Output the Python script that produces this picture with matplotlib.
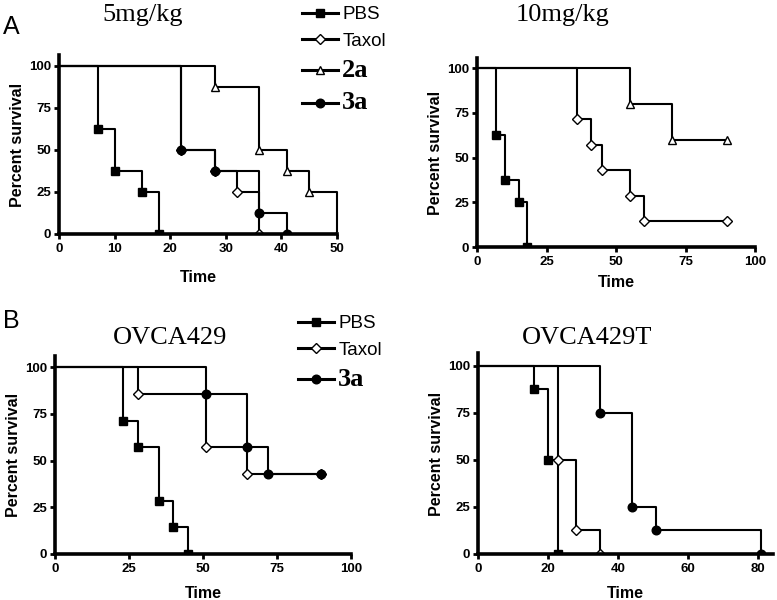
import matplotlib
matplotlib.use("Agg")
import matplotlib.pyplot as plt
from matplotlib.lines import Line2D

# ---------------- data ----------------
# Panel A, 5 mg/kg
a5_pbs_t = [7, 10, 15, 18];           a5_pbs_s = [62.5, 37.5, 25, 0]
a5_tax_t = [22, 28, 32, 36];          a5_tax_s = [50, 37.5, 25, 0]
a5_2a_t = [28, 36, 41, 45, 50];       a5_2a_s = [87.5, 50, 37.5, 25, 0]
a5_3a_t = [22, 28, 36, 41];           a5_3a_s = [50, 37.5, 12.5, 0]
# Panel A, 10 mg/kg
a10_pbs_t = [7, 10, 15, 18];          a10_pbs_s = [62.5, 37.5, 25, 0]
a10_tax_t = [36, 41, 45, 55, 60];     a10_tax_s = [71.4, 57.1, 42.9, 28.6, 14.3]; a10_tax_end = 90
a10_2a_t = [55, 70];                  a10_2a_s = [80, 60];                         a10_2a_end = 90
# Panel B, OVCA429
b1_pbs_t = [23, 28, 35, 40, 45];      b1_pbs_s = [71.4, 57.1, 28.6, 14.3, 0]
b1_tax_t = [28, 51, 65];              b1_tax_s = [85.7, 57.1, 42.9];               b1_tax_end = 90
b1_3a_t = [51, 65, 72];               b1_3a_s = [85.7, 57.1, 42.9];                b1_3a_end = 90
# Panel B, OVCA429T
b2_pbs_t = [16, 20, 23];              b2_pbs_s = [87.5, 50, 0]
b2_tax_t = [23, 28, 35];              b2_tax_s = [50, 12.5, 0]
b2_3a_t = [35, 44, 51, 81];           b2_3a_s = [75, 25, 12.5, 0]

titles = ["5mg/kg", "10mg/kg", "OVCA429", "OVCA429T"]
yticks = [0, 25, 50, 75, 100]

SANS = "Liberation Sans"
SERIF = "Liberation Serif"

styles = {
    "PBS": dict(marker="s", mfc="black", ms=6.0),
    "Taxol": dict(marker="D", mfc="white", ms=4.6),
    "2a": dict(marker="^", mfc="white", ms=5.5),
    "3a": dict(marker="o", mfc="black", ms=6.2),
}

W, H = 777, 600
fig = plt.figure(figsize=(W / 100, H / 100), dpi=100)


def px_axes(x0, x1, ytop, ybot):
    return fig.add_axes([x0 / W, 1 - ybot / H, (x1 - x0) / W, (ybot - ytop) / H])


def km(ax, name, t, s, end=None):
    xs = [0] + list(t)
    ys = [100] + list(s)
    if end is not None:
        xs.append(end)
        ys.append(s[-1])
    st = styles[name]
    ax.step(xs, ys, where="post", color="black", lw=1.5, zorder=2, clip_on=False)
    mx = list(t) + ([end] if end is not None else [])
    my = list(s) + ([s[-1]] if end is not None else [])
    ax.plot(mx, my, ls="none", marker=st["marker"], mfc=st["mfc"], mec="black",
            mew=1.0, ms=st["ms"], zorder=3, clip_on=True)


def style(ax, xlim, xticks, ytop, xpad):
    ax.set_xlim(*xlim)
    ax.set_ylim(0, ytop)
    ax.set_xticks(xticks)
    ax.set_yticks(yticks)
    for sp in ["top", "right"]:
        ax.spines[sp].set_visible(False)
    for sp in ["left", "bottom"]:
        ax.spines[sp].set_linewidth(2.6)
        ax.spines[sp].set_zorder(4)
    ax.tick_params(direction="out", length=3.5, width=2.0, pad=2)
    ax.tick_params(axis="x", pad=3)
    for lab in ax.get_xticklabels() + ax.get_yticklabels():
        lab.set_fontfamily(SANS)
        lab.set_fontweight("bold")
        lab.set_fontsize(9.5)
    ax.set_ylabel("Percent survival", fontfamily=SANS, fontweight="bold", fontsize=11.5, labelpad=3)
    ax.set_xlabel("Time", fontfamily=SANS, fontweight="bold", fontsize=11.5, labelpad=xpad)


# Panel A left
ax1 = px_axes(59, 337, 55, 234)
km(ax1, "PBS", a5_pbs_t, a5_pbs_s)
km(ax1, "Taxol", a5_tax_t, a5_tax_s)
km(ax1, "2a", a5_2a_t, a5_2a_s)
km(ax1, "3a", a5_3a_t, a5_3a_s)
style(ax1, (0, 50), [0, 10, 20, 30, 40, 50], 106.5, 11)

# Panel A right
ax2 = px_axes(477, 755, 58, 247)
km(ax2, "PBS", a10_pbs_t, a10_pbs_s)
km(ax2, "Taxol", a10_tax_t, a10_tax_s, a10_tax_end)
km(ax2, "2a", a10_2a_t, a10_2a_s, a10_2a_end)
style(ax2, (0, 100), [0, 25, 50, 75, 100], 105.6, 5)

# Panel B left
ax3 = px_axes(55, 351, 356, 554)
km(ax3, "PBS", b1_pbs_t, b1_pbs_s)
km(ax3, "Taxol", b1_tax_t, b1_tax_s, b1_tax_end)
km(ax3, "3a", b1_3a_t, b1_3a_s, b1_3a_end)
style(ax3, (0, 100), [0, 25, 50, 75, 100], 106, 8)

# Panel B right
ax4 = px_axes(478, 773, 353, 554)
km(ax4, "PBS", b2_pbs_t, b2_pbs_s)
km(ax4, "Taxol", b2_tax_t, b2_tax_s)
km(ax4, "3a", b2_3a_t, b2_3a_s)
style(ax4, (0, 84.3), [0, 20, 40, 60, 80], 106.9, 8)

# titles
for (cx, cy), ttl in zip([(143, 15), (563, 15), (170, 338), (587, 338)], titles):
    fig.text(cx / W, 1 - cy / H, ttl, ha="center", va="center", fontfamily=SERIF, fontsize=19)

# panel letters
fig.text(3 / W, 1 - 27 / H, "A", ha="left", va="center", fontfamily=SANS, fontsize=18)
fig.text(3 / W, 1 - 321 / H, "B", ha="left", va="center", fontfamily=SANS, fontsize=18)


def legend(ax, names, anchor):
    handles = []
    for n in names:
        st = styles[n]
        handles.append(Line2D([0], [0], color="black", lw=2.2, marker=st["marker"], mfc=st["mfc"],
                              mec="black", mew=1.0, ms=st["ms"]))
    leg = ax.legend(handles, names, loc="upper left", bbox_to_anchor=(anchor[0] / W, 1 - anchor[1] / H),
                    bbox_transform=fig.transFigure, frameon=False, handlelength=1.9, handletextpad=0.25,
                    labelspacing=0.5, borderpad=0, borderaxespad=0, numpoints=1,
                    prop={"family": SANS, "size": 13.5})
    for txt in leg.get_texts():
        if txt.get_text() in ("2a", "3a"):
            txt.set_fontfamily(SERIF)
            txt.set_fontweight("bold")
            txt.set_fontsize(19)
    return leg


legend(ax1, ["PBS", "Taxol", "2a", "3a"], (302, 6))
legend(ax3, ["PBS", "Taxol", "3a"], (298, 315))

fig.savefig("out.png", dpi=100)
